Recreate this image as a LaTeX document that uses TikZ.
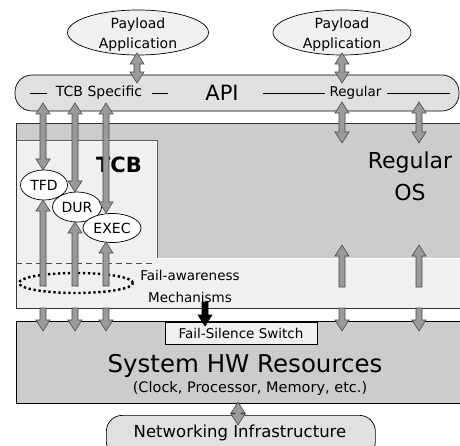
\documentclass[tikz,border=0pt]{standalone}
\usepackage{fontspec}
\setmainfont{DejaVu Sans}
\usetikzlibrary{calc,shapes.geometric}

\definecolor{hwgray}{HTML}{CCCCCC}
\definecolor{panelgray}{HTML}{F0F0F0}
\definecolor{apigray}{HTML}{E0E0E0}
\definecolor{arrowfill}{HTML}{9A9A9A}
\definecolor{arrowline}{HTML}{484848}

\newcommand\pxsize[1]{\fontsize{#1}{#1}\selectfont}

% fat block arrows between two named points on one vertical line
% (shaft half width 3pt, head half width 7pt, head length 11pt)
\newcommand\fatdouble[3][fatarrow]{% #2 upper tip, #3 lower tip
  \path[#1] let \p1=(#2), \p2=(#3) in
    (\x1,\y1) -- (\x1+7pt,\y1-11pt) -- (\x1+3pt,\y1-11pt) -- (\x1+3pt,\y2+11pt)
    -- (\x1+7pt,\y2+11pt) -- (\x1,\y2) -- (\x1-7pt,\y2+11pt) -- (\x1-3pt,\y2+11pt)
    -- (\x1-3pt,\y1-11pt) -- (\x1-7pt,\y1-11pt) -- cycle;}
\newcommand\fatup[3][fatarrow]{% #2 upper tip, #3 lower tail
  \path[#1] let \p1=(#2), \p2=(#3) in
    (\x1,\y1) -- (\x1+7pt,\y1-11pt) -- (\x1+3pt,\y1-11pt) -- (\x1+3pt,\y2)
    -- (\x1-3pt,\y2) -- (\x1-3pt,\y1-11pt) -- (\x1-7pt,\y1-11pt) -- cycle;}
\newcommand\fatdown[3][fatarrow]{% #2 upper tail, #3 lower tip
  \path[#1] let \p1=(#2), \p2=(#3) in
    (\x1-3pt,\y1) -- (\x1+3pt,\y1) -- (\x1+3pt,\y2+11pt) -- (\x1+7pt,\y2+11pt)
    -- (\x1,\y2) -- (\x1-7pt,\y2+11pt) -- (\x1-3pt,\y2+11pt) -- cycle;}

\tikzset{
  fatarrow/.style={fill=arrowfill, draw=arrowline, line width=0.6pt, line join=miter},
  blackarrow/.style={fill=black, draw=black, line width=0.6pt, line join=miter},
  bubble/.style={ellipse, draw=black, fill=panelgray, line width=0.7pt, inner sep=0pt},
  rule/.style={draw=black, line width=0.6pt},
  lbl/.style={inner sep=0pt},
}

\begin{document}
\begin{tikzpicture}[x=1pt, y=-1pt]
\useasboundingbox (0,0) rectangle (460,446);
\fill[white] (0,0) rectangle (460,446);

% payload applications
\node[bubble, minimum width=141pt, minimum height=45pt] (payL) at (138,32.5) {};
\node[lbl, align=center, font=\fontsize{14}{20}\selectfont] (payLtxt) at (138,35) {Payload\\Application};
\node[bubble, minimum width=138pt, minimum height=45pt] (payR) at (342,32.5) {};
\node[lbl, align=center, font=\fontsize{14}{20}\selectfont] (payRtxt) at (342,35) {Payload\\Application};

% API bar
\node[draw=black, line width=0.7pt, fill=apigray, rounded corners=17pt,
      minimum width=444pt, minimum height=36pt, inner sep=0pt] (api) at (237,93) {};
\node[lbl, font=\pxsize{21}] (apitxt) at (222,93) {API};
\node[lbl, font=\pxsize{14}] (tcbspec) at (99,93) {TCB Specific};
\node[lbl, font=\pxsize{13.5}] (regapi) at (355.5,93) {Regular};
\coordinate (l1a) at (30,93);   \coordinate (l1b) at (47,93);
\coordinate (l2a) at (152,93);  \coordinate (l2b) at (168,93);
\coordinate (l3a) at (263,93);  \coordinate (l3b) at (325,93);
\coordinate (l4a) at (387,93);  \coordinate (l4b) at (450,93);
\draw[rule] (l1a) -- (l1b);
\draw[rule] (l2a) -- (l2b);
\draw[rule] (l3a) -- (l3b);
\draw[rule] (l4a) -- (l4b);

% operating system frame
\fill[hwgray] (16,123) rectangle (462,308);
% TCB panel with fail-awareness band, outlined dark then white
\begin{scope}
  \clip (16,123) rectangle (462,308);
  \draw[draw=black!65, line width=3pt] (16,142) -- (156,142) -- (156,259) -- (462,259) -- (462,308) -- (16,308) -- cycle;
  \draw[draw=white, line width=1.6pt] (16,142) -- (156,142) -- (156,259) -- (462,259) -- (462,308) -- (16,308) -- cycle;
  \fill[panelgray] (16,142) -- (156,142) -- (156,259) -- (462,259) -- (462,308) -- (16,308) -- cycle;
\end{scope}
\draw[black!80, line width=0.7pt] (462,123) -- (16,123) -- (16,308) -- (462,308);
\draw[black!70, dashed, dash pattern=on 6pt off 4pt, line width=0.6pt] (16,263) -- (152,263);

\node[lbl, font=\bfseries\pxsize{21}] (tcb) at (119,165) {TCB};
\node[lbl, align=center, font=\fontsize{22}{32}\selectfont] (regos) at (410,176) {Regular\\OS};

% fail-awareness mechanisms
\node[ellipse, draw=black, line width=2.4pt, dash pattern=on 2.4pt off 2.6pt,
      minimum width=114pt, minimum height=20pt, inner sep=0pt] (fam) at (76,283) {};
\node[lbl, align=center, font=\fontsize{13.5}{22}\selectfont] (famtxt) at (190,286) {Fail-awareness\\Mechanisms};

% TCB components
\node[bubble, fill=white, minimum width=47pt, minimum height=30pt, font=\pxsize{14}] (tfd) at (44,185) {TFD};
\node[bubble, fill=white, minimum width=49pt, minimum height=30pt, font=\pxsize{14}] (dur) at (77,207) {DUR};
\node[bubble, fill=white, minimum width=58pt, minimum height=29pt, font=\pxsize{14}] (exec) at (112,228) {EXEC};

% hardware resources
\node[draw=black, line width=0.7pt, fill=hwgray, minimum width=448pt, minimum height=82pt,
      inner sep=0pt, anchor=north west] (hw) at (16,321) {};
\node[lbl, font=\pxsize{24.5}] (hwtxt) at (245,366) {System HW Resources};
\node[lbl, font=\pxsize{14.5}] (hwsub) at (250,388) {(Clock, Processor, Memory, etc.)};
\node[draw=black, line width=0.6pt, fill=panelgray, minimum width=152pt, minimum height=22pt,
      inner sep=0pt, font=\pxsize{13.5}] (fss) at (241,333) {Fail-Silence Switch};

% networking
\node[draw=black, line width=0.7pt, fill=apigray, rounded corners=16pt,
      minimum width=269pt, minimum height=42pt, inner sep=0pt, anchor=north west] (net) at (106,415) {};
\node[lbl, font=\pxsize{16.5}] (nettxt) at (240,433) {Networking Infrastructure};

% connector end points
\coordinate (pL1) at (137,53);  \coordinate (pL2) at (137,83);
\coordinate (pR1) at (342,53);  \coordinate (pR2) at (342,83);
\coordinate (a1) at (43,103);   \coordinate (a2) at (75,103);   \coordinate (a3) at (106,103);
\coordinate (r1) at (342,102);  \coordinate (r2) at (419,102);
\coordinate (r1b) at (342,143); \coordinate (r2b) at (419,143);
\coordinate (tfdtop) at (43,170); \coordinate (durtop) at (75,192); \coordinate (exectop) at (106,213);
\coordinate (tfdbot) at (43,200); \coordinate (durbot) at (75,222); \coordinate (execbot) at (106,242);
\coordinate (f1) at (43,286);   \coordinate (f2) at (75,286);   \coordinate (f3) at (106,286);
\coordinate (g1) at (342,245);  \coordinate (g2) at (419,245);
\coordinate (g1b) at (342,287); \coordinate (g2b) at (419,287);
\coordinate (d1) at (43,308);   \coordinate (d2) at (75,308);   \coordinate (d3) at (106,308);
\coordinate (d4) at (342,308);  \coordinate (d5) at (419,308);
\coordinate (e1) at (43,331);   \coordinate (e2) at (75,331);   \coordinate (e3) at (106,331);
\coordinate (e4) at (342,331);  \coordinate (e5) at (419,331);
\coordinate (s1) at (205,302);  \coordinate (s2) at (205,326);
\coordinate (n1) at (238,402);  \coordinate (n2) at (238,425);

% payload to API
\fatdouble{pL1}{pL2}
\fatdouble{pR1}{pR2}
% API to TCB components and to the regular OS
\fatdouble{a1}{tfdtop}
\fatdouble{a2}{durtop}
\fatdouble{a3}{exectop}
\fatdouble{r1}{r1b}
\fatdouble{r2}{r2b}
% fail-awareness observing the components
\fatup{tfdbot}{f1}
\fatup{durbot}{f2}
\fatup{execbot}{f3}
\fatup{g1}{g1b}
\fatup{g2}{g2b}
% down to the hardware
\fatdown{d1}{e1}
\fatdown{d2}{e2}
\fatdown{d3}{e3}
\fatdown{d4}{e4}
\fatdown{d5}{e5}
% fail-silence command
\fatdown[blackarrow]{s1}{s2}
% hardware to network
\fatdouble{n1}{n2}
\end{tikzpicture}
\end{document}
